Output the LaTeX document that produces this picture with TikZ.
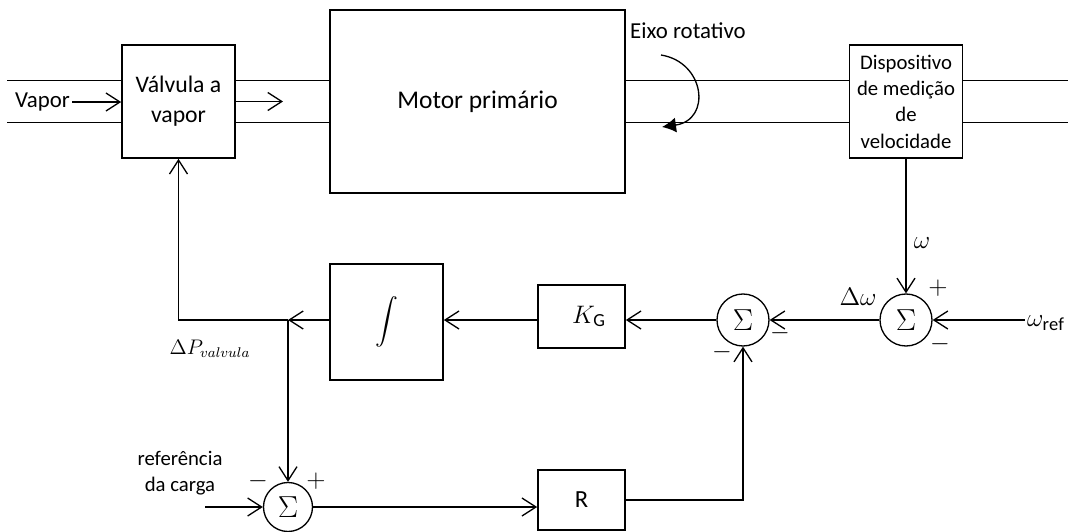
\documentclass[tikz,border=0pt]{standalone}
\usepackage{fontspec}
\setmainfont{Carlito}
\usetikzlibrary{positioning, arrows.meta, calc}

\begin{document}
\begin{tikzpicture}[line width=0.75pt, >={Straight Barb[length=2.8mm,width=3.6mm]},
    font=\fontsize{12}{14}\selectfont,
    bloco/.style={draw, line width=0.95pt, minimum width=2.26cm, minimum height=2.26cm, align=center, inner sep=2pt},
    soma/.style={draw, circle, minimum size=1.04cm, inner sep=0pt, font=\fontsize{19}{19}\selectfont},
    sinal/.style={inner sep=0pt, font=\fontsize{15}{15}\selectfont},
    rot/.style={inner sep=1pt}]

  \useasboundingbox (0,0) rectangle (21.36,-10.62);

  % blocos da linha de vapor
  \node[bloco, font=\fontsize{13.5}{17}\selectfont] (valv) at (3.57,-2.03) {Válvula a\\vapor};
  \node[bloco, minimum width=5.9cm, minimum height=3.66cm, font=\fontsize{14.5}{17}\selectfont] (motor) at (9.55,-2.03) {Motor primário};
  \node[bloco, font=\fontsize{11.8}{15}\selectfont] (disp) at (18.12,-2.03) {Dispositivo\\de medição\\de\\velocidade};

  % malha de controle
  \node[soma] (s1) at (18.12,-6.40) {$\Sigma$};
  \node[soma] (s2) at (14.86,-6.40) {$\Sigma$};
  \node[soma, minimum size=0.98cm] (s3) at (5.76,-10.14) {$\Sigma$};
  \node[bloco, minimum width=1.74cm, minimum height=1.26cm, font=\fontsize{15}{15}\selectfont] (kg) at (11.63,-6.33) {\hspace{0.3cm}$K_{\mathrm{G}}$};
  \node[bloco, minimum height=2.32cm] (integ) at (7.73,-6.44) {\scalebox{1.3}{$\displaystyle\int$}};
  \node[bloco, minimum width=1.74cm, minimum height=1.2cm, font=\fontsize{14}{14}\selectfont] (r) at (11.63,-10.0) {R};
  \coordinate (j) at (5.76,-6.40);

  % tubos
  \foreach \dy in {0.42,-0.42} {
    \draw ([yshift=\dy cm]valv.west) -- ++(-2.28,0);
    \draw ([yshift=\dy cm]valv.east) -- ([yshift=\dy cm]motor.west);
    \draw ([yshift=\dy cm]motor.east) -- ([yshift=\dy cm]disp.west);
    \draw ([yshift=\dy cm]disp.east) -- ++(2.1,0);
  }

  \node[rot, font=\fontsize{13}{13}\selectfont] (vapor) at (0.85,-2.04) {Vapor};
  \draw[->] (vapor.east) -- (valv.west |- vapor);
  \coordinate (vsai) at (5.66,-2.03);
  \draw[->] (valv.east) -- (vsai);

  \node[rot, font=\fontsize{13}{13}\selectfont] (eixo) at (13.76,-0.62) {Eixo rotativo};
  \draw[-{Latex[length=2.8mm,width=3mm]}] (13.22,-1.1) .. controls (14.1,-1.24) and (14.24,-2.4) .. (13.24,-2.54);

  % realimentacao
  \node[rot, font=\fontsize{15}{15}\selectfont] (w) at (18.44,-4.86) {$\omega$};
  \node[rot, font=\fontsize{15}{15}\selectfont] (wref) at (20.92,-6.46) {$\omega_{\mathrm{ref}}$};
  \node[rot, font=\fontsize{15}{15}\selectfont] (dw) at (17.16,-5.94) {$\Delta\omega$};
  \node[rot, font=\fontsize{12}{12}\selectfont] (dp) at (4.2,-6.98) {$\Delta P_{valvula}$};
  \node[rot, align=center, font=\fontsize{11.8}{14.5}\selectfont] (carga) at (3.6,-9.46) {referência\\da carga};
  \coordinate (cref) at (4.1,-10.14);

  \draw[->] (disp.south) -- (s1.north);
  \draw[->] (wref.west |- s1) -- (s1.east);
  \draw[->] (s1.west) -- (s2.east);
  \draw[->] (s2.west) -- (s2 -| kg.east);
  \draw[->] (kg.west |- s2) -- (s2 -| integ.east);
  \draw[->] (integ.west |- j) -- (j);
  \draw[->] (j) -| (valv.south);
  \draw[->] (j) -- (s3.north);
  \draw[->] (cref) -- (s3.west);
  \draw[->] (s3.east) -- (s3 -| r.west);
  \draw[->] (r.east) -| (s2.south);

  % sinais
  \node[sinal] at (18.76,-5.76) {$+$};
  \node[sinal] at (18.80,-6.88) {$-$};
  \node[sinal] at (15.60,-6.66) {$-$};
  \node[sinal] at (14.44,-7.04) {$-$};
  \node[sinal] at (5.16,-9.62) {$-$};
  \node[sinal] at (6.32,-9.62) {$+$};
\end{tikzpicture}
\end{document}
